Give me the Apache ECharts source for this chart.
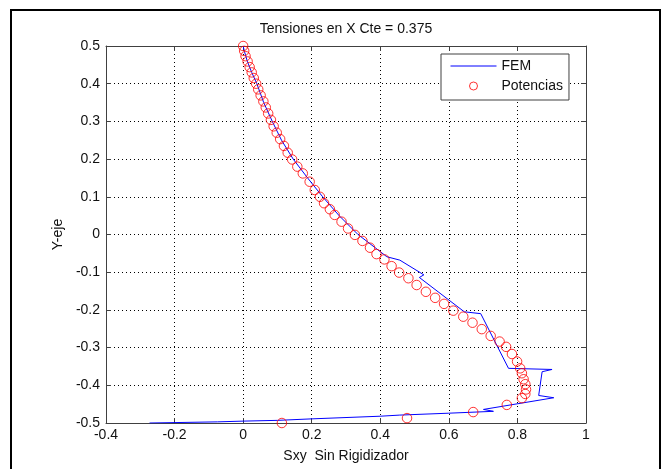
<!DOCTYPE html>
<html>
<head>
<meta charset="utf-8">
<script src="https://cdn.jsdelivr.net/npm/echarts@6/dist/echarts.min.js"></script>
<style>
  html, body { margin: 0; padding: 0; background: #fff; }
  #chart { width: 669px; height: 469px; }
</style>
</head>
<body>
<div id="chart"></div>
<script>
// Labels
const titleText = 'Tensiones en X Cte = 0.375';
const xAxisName = 'Sxy  Sin Rigidizador';
const yAxisName = 'Y-eje';
const seriesNames = ['FEM', 'Potencias'];

// Axis ranges and tick spacing
const xRange = [-0.4, 1];
const yRange = [-0.5, 0.5];
const xStep = 0.2;
const yStep = 0.1;

// FEM solution (polyline)
const femX = [0.000, 0.004, 0.012, 0.025, 0.040, 0.060, 0.085, 0.112, 0.146, 0.188,
              0.232, 0.280, 0.335, 0.385, 0.419, 0.457, 0.527, 0.514, 0.645, 0.693,
              0.774, 0.901, 0.872, 0.862, 0.906, 0.701, 0.730, 0.600, 0.457, 0.400,
              0.201, 0.199, 0.100, 0.000, -0.075, -0.080, -0.273];
const femY = [0.500, 0.485, 0.460, 0.430, 0.400, 0.350, 0.300, 0.250, 0.200, 0.150,
              0.100, 0.050, 0.000, -0.035, -0.059, -0.068, -0.107, -0.114, -0.205, -0.210,
              -0.355, -0.358, -0.364, -0.427, -0.433, -0.464, -0.469, -0.474, -0.479, -0.482,
              -0.489, -0.491, -0.493, -0.495, -0.497, -0.499, -0.500];

// Power-series solution (markers)
const potX = [0.000, 0.003, 0.007, 0.013, 0.019, 0.025, 0.031, 0.038, 0.044, 0.051,
              0.059, 0.066, 0.073, 0.081, 0.089, 0.098, 0.108, 0.119, 0.130, 0.143,
              0.158, 0.174, 0.194, 0.209, 0.224, 0.236, 0.253, 0.267, 0.287, 0.306,
              0.326, 0.348, 0.370, 0.389, 0.412, 0.433, 0.455, 0.482, 0.506, 0.533,
              0.560, 0.586, 0.613, 0.642, 0.669, 0.696, 0.722, 0.748, 0.767, 0.784,
              0.799, 0.808, 0.813, 0.818, 0.823, 0.825, 0.823, 0.813, 0.769, 0.671,
              0.478, 0.113];
const potY = [0.500, 0.487, 0.473, 0.459, 0.444, 0.430, 0.415, 0.400, 0.385, 0.369,
              0.353, 0.337, 0.321, 0.304, 0.287, 0.270, 0.253, 0.235, 0.217, 0.199,
              0.180, 0.162, 0.140, 0.118, 0.100, 0.083, 0.067, 0.052, 0.034, 0.016,
              -0.001, -0.017, -0.035, -0.052, -0.066, -0.084, -0.101, -0.116, -0.134, -0.152,
              -0.168, -0.184, -0.202, -0.218, -0.234, -0.251, -0.269, -0.284, -0.298, -0.317,
              -0.337, -0.355, -0.368, -0.384, -0.397, -0.411, -0.423, -0.434, -0.452, -0.471,
              -0.487, -0.500];

const FONT = '"Liberation Sans", Arial, Helvetica, sans-serif';
const AXIS_COLOR = '#404040';
const TEXT_COLOR = '#111';

const femData = femX.map((x, i) => [x, femY[i]]);
const potData = potX.map((x, i) => [x, potY[i]]);

const chart = echarts.init(document.getElementById('chart'), null, { renderer: 'canvas' });

const gridLine = { show: true, lineStyle: { color: '#000', width: 1, type: [1, 3] } };
const boxAxisLine = { show: true, onZero: false, lineStyle: { color: AXIS_COLOR, width: 1 } };
const innerTick = { show: true, inside: true, length: 5, lineStyle: { color: AXIS_COLOR } };

chart.setOption({
  animation: false,
  backgroundColor: '#fff',
  textStyle: { fontFamily: FONT },
  title: {
    text: titleText,
    left: 346,
    top: 22,
    textAlign: 'center',
    padding: 0,
    textStyle: { fontFamily: FONT, fontSize: 14, fontWeight: 'normal', color: TEXT_COLOR }
  },
  grid: { left: 106, right: 83, top: 46, bottom: 46, containLabel: false },
  legend: {
    orient: 'vertical',
    left: 441,
    top: 54,
    padding: [5, 6, 7, 9],
    itemGap: 6,
    itemWidth: 46,
    itemHeight: 8,
    backgroundColor: '#fff',
    borderColor: AXIS_COLOR,
    borderWidth: 1,
    borderRadius: 0,
    textStyle: { fontFamily: FONT, fontSize: 14, color: TEXT_COLOR },
    data: [
      { name: seriesNames[0], itemStyle: { opacity: 0 }, lineStyle: { width: 1, color: '#0000ff' } },
      { name: seriesNames[1], itemStyle: { color: 'transparent', borderColor: '#ff0000', borderWidth: 1 } }
    ]
  },
  xAxis: [
    {
      type: 'value', min: xRange[0], max: xRange[1], interval: xStep, position: 'bottom',
      name: xAxisName, nameLocation: 'middle', nameGap: 26,
      nameTextStyle: { fontFamily: FONT, fontSize: 14, color: TEXT_COLOR },
      axisLine: boxAxisLine, axisTick: innerTick, splitLine: gridLine,
      axisLabel: { show: true, margin: 5, fontFamily: FONT, fontSize: 14, color: TEXT_COLOR,
                   showMinLabel: true, showMaxLabel: true, hideOverlap: false }
    },
    {
      type: 'value', min: xRange[0], max: xRange[1], interval: xStep, position: 'top',
      axisLine: boxAxisLine, axisTick: innerTick, splitLine: { show: false },
      axisLabel: { show: false }
    }
  ],
  yAxis: [
    {
      type: 'value', min: yRange[0], max: yRange[1], interval: yStep, position: 'left',
      name: yAxisName, nameLocation: 'middle', nameGap: 34, nameRotate: 90,
      nameTextStyle: { fontFamily: FONT, fontSize: 14, color: TEXT_COLOR },
      axisLine: boxAxisLine, axisTick: innerTick, splitLine: gridLine,
      axisLabel: { show: true, margin: 6, fontFamily: FONT, fontSize: 14, color: TEXT_COLOR,
                   showMinLabel: true, showMaxLabel: true, hideOverlap: false }
    },
    {
      type: 'value', min: yRange[0], max: yRange[1], interval: yStep, position: 'right',
      axisLine: boxAxisLine, axisTick: innerTick, splitLine: { show: false },
      axisLabel: { show: false }
    }
  ],
  series: [
    {
      name: seriesNames[0],
      type: 'line',
      xAxisIndex: 0, yAxisIndex: 0,
      data: femData,
      symbol: 'none',
      smooth: false,
      lineStyle: { color: '#0000ff', width: 1 },
      itemStyle: { color: '#0000ff' },
      z: 2
    },
    {
      name: seriesNames[1],
      type: 'scatter',
      xAxisIndex: 0, yAxisIndex: 0,
      data: potData,
      symbol: 'circle',
      symbolSize: 9.5,
      itemStyle: { color: 'transparent', borderColor: '#ff0000', borderWidth: 1 },
      z: 3
    }
  ],
  graphic: [
    {
      type: 'rect',
      shape: { x: 11, y: 10, width: 649, height: 470 },
      style: { fill: 'none', stroke: '#000', lineWidth: 2 },
      silent: true,
      z: 100
    }
  ]
});
</script>
</body>
</html>
